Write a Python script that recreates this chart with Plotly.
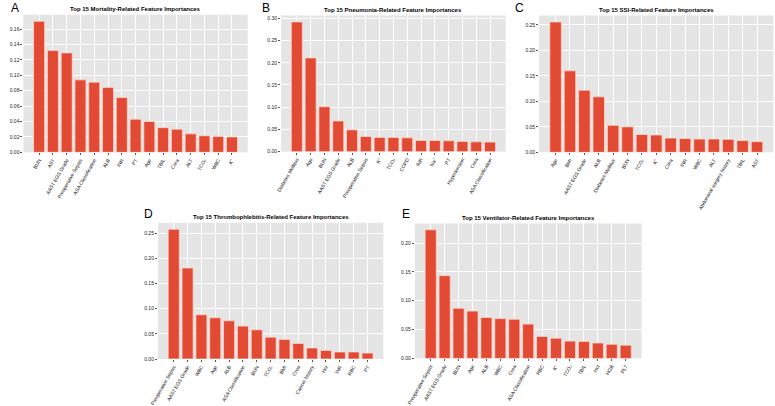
import plotly.graph_objects as go

# DATA
mort_features = ['BUN', 'AST', 'AAST EGS Grade', 'Preoperative Sepsis', 'ASA Classification',
                 'ALB', 'INR', 'PT', 'Age', 'TBIL', 'Crea', 'ALT', 'TCO₂', 'WBC', 'K⁺']
mort_values = [0.170, 0.132, 0.129, 0.094, 0.091, 0.084, 0.071, 0.043, 0.040,
               0.032, 0.030, 0.024, 0.0215, 0.0205, 0.020]

pneu_features = ['Diabetes Mellitus', 'Age', 'BUN', 'AAST EGS Grade', 'ALB', 'Preoperative Sepsis',
                 'K⁺', 'TCO₂', 'COPD', 'INR', 'Na⁺', 'PT', 'Hypertension', 'Crea', 'ASA Classification']
pneu_values = [0.292, 0.211, 0.101, 0.069, 0.049, 0.034, 0.032, 0.032, 0.031,
               0.025, 0.025, 0.0245, 0.023, 0.022, 0.0215]

ssi_features = ['Age', 'BMI', 'AAST EGS Grade', 'ALB', 'Diabetes Mellitus', 'BUN', 'TCO₂', 'K⁺',
                'Crea', 'INR', 'WBC', 'ALT', 'Abdominal surgery history', 'TBIL', 'AST']
ssi_values = [0.256, 0.160, 0.122, 0.109, 0.053, 0.050, 0.035, 0.034, 0.028,
              0.027, 0.026, 0.026, 0.0255, 0.023, 0.021]

thrombo_features = ['Preoperative Sepsis', 'AAST EGS Grade', 'WBC', 'Age', 'ALB', 'ASA Classification',
                    'BUN', 'TCO₂', 'BMI', 'Crea', 'Cancer history', 'Hct', 'INR', 'RBC', 'PT']
thrombo_values = [0.258, 0.181, 0.088, 0.082, 0.076, 0.0655, 0.058, 0.0435, 0.039,
                  0.031, 0.022, 0.017, 0.014, 0.014, 0.0117]

vent_features = ['Preoperative Sepsis', 'AAST EGS Grade', 'BUN', 'Age', 'ALB', 'WBC', 'Crea',
                 'ASA Classification', 'RBC', 'K⁺', 'TCO₂', 'TBIL', 'Hct', 'HGB', 'PLT']
vent_values = [0.223, 0.1435, 0.087, 0.082, 0.071, 0.069, 0.068, 0.0595, 0.038,
               0.035, 0.030, 0.0295, 0.0267, 0.0245, 0.023]

W, H = 775, 406

panels = [
    # letter, title, features, values, plot box in px (x0, x1, y0, y1), dtick
    ('A', 'Top 15 Mortality-Related Feature Importances', mort_features, mort_values,
     (14.6, 241.5, 15, 155), 0.02),
    ('B', 'Top 15 Pneumonia-Related Feature Importances', pneu_features, pneu_values,
     (275.3, 502.6, 15.7, 154.3), 0.05),
    ('C', 'Top 15 SSI-Related Feature Importances', ssi_features, ssi_values,
     (536.4, 773.4, 15.7, 155), 0.05),
    ('D', 'Top 15 Thrombophlebitis-Related Feature Importances', thrombo_features, thrombo_values,
     (150.7, 378.7, 226.7, 365.3), 0.05),
    ('E', 'Top 15 Ventilator-Related Feature Importances', vent_features, vent_values,
     (410.6, 640, 227.3, 364.7), 0.05),
]

fig = go.Figure()
annotations = []

for i, (letter, title, feats, vals, box, dtick) in enumerate(panels):
    n = i + 1
    xa = 'x' if n == 1 else f'x{n}'
    ya = 'y' if n == 1 else f'y{n}'
    x0, x1, y0, y1 = box

    fig.add_trace(go.Bar(
        x=feats, y=vals, xaxis=xa, yaxis=ya, width=0.8,
        marker=dict(color='#E24A33', line=dict(color='rgba(255,220,210,0.9)', width=0.8)),
        showlegend=False,
    ))

    axis_common = dict(
        showgrid=True, gridcolor='white', gridwidth=0.8, zeroline=False,
        ticks='outside', ticklen=2, tickwidth=0.6, tickcolor='#555555',
        tickfont=dict(size=5, color='#222222', family='Liberation Sans'),
        showline=False,
    )
    fig.update_layout(**{
        ('xaxis' if n == 1 else f'xaxis{n}'): dict(
            axis_common, domain=[x0 / W, x1 / W], anchor=ya, type='category',
            range=[-1.14, 15.14], tickangle=-60,
        ),
        ('yaxis' if n == 1 else f'yaxis{n}'): dict(
            axis_common, domain=[1 - y1 / H, 1 - y0 / H], anchor=xa,
            range=[0, max(vals) * 1.05], dtick=dtick, tick0=0, tickformat='.2f',
        ),
    })

    annotations.append(dict(
        text=f'<b>{title}</b>', xref='paper', yref='paper',
        x=(x0 + x1) / 2 / W, y=1 - y0 / H, xanchor='center', yanchor='bottom',
        yshift=0.5, showarrow=False,
        font=dict(size=6, color='black', family='Liberation Sans'),
    ))

letter_pos = {'A': (1, 0), 'B': (255, 0), 'C': (511, 0), 'D': (136, 210), 'E': (397, 210)}
for letter, (lx, ly) in letter_pos.items():
    annotations.append(dict(
        text=letter, xref='paper', yref='paper', x=lx / W, y=1 - ly / H,
        xanchor='left', yanchor='top', showarrow=False, borderpad=0,
        font=dict(size=12, color='black', family='Liberation Sans'),
    ))

fig.update_layout(
    width=W, height=H,
    margin=dict(l=0, r=0, t=0, b=0),
    paper_bgcolor='white',
    plot_bgcolor='#E5E5E5',
    bargap=0.2,
    annotations=annotations,
)

fig.write_html('out.html', config={'displayModeBar': False},
               post_script="document.body.style.margin='0';")
